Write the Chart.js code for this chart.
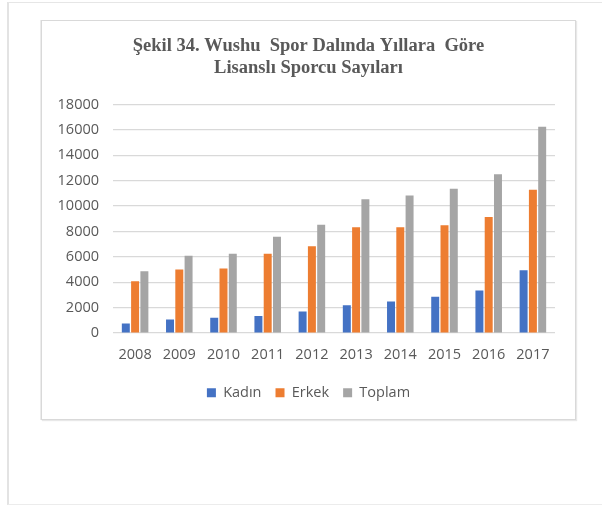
<!DOCTYPE html>
<html>
<head>
<meta charset="utf-8">
<script src="https://cdn.jsdelivr.net/npm/chart.js@4/dist/chart.umd.min.js"></script>
<style>
	html, body { margin: 0; padding: 0; background: #ffffff; }
	body { width: 602px; height: 506px; position: relative; overflow: hidden; }
	#page {
		position: absolute; left: 7px; top: 2px; width: 620px; height: 501px;
		border-left: 2px solid #e3e3e3; border-top: 1px solid #e6e6e6; border-bottom: 1px solid #ececec;
	}
	#box {
		position: absolute; left: 41px; top: 20px; width: 533px; height: 398px;
		border: 1px solid #d9d9d9;
		box-shadow: 1px 1px 1px #e8e8e8, -1px 0 0 #ececec;
		background: #ffffff;
	}
	#chart { display: block; }
</style>
</head>
<body>
<div id="page"></div>
<div id="box"><canvas id="chart" width="533" height="398"></canvas></div>
<script>
const YEARS = ['2008', '2009', '2010', '2011', '2012', '2013', '2014', '2015', '2016', '2017'];
const KADIN = [760, 1070, 1200, 1340, 1700, 2200, 2490, 2860, 3360, 4950];
const ERKEK = [4090, 5000, 5080, 6240, 6840, 8330, 8330, 8490, 9150, 11290];
const TOPLAM = [4870, 6090, 6240, 7590, 8540, 10550, 10840, 11360, 12520, 16250];
const TITLE_LINES = ['Şekil 34. Wushu  Spor Dalında Yıllara  Göre', 'Lisanslı Sporcu Sayıları'];

const TEXT_COLOR = '#595959';
const GRID_COLOR = '#d9d9d9';
const LABEL_FONT = { family: '"Open Sans", sans-serif', size: 14.5 };

let barDataset = (label, data, color) => ({
	label: label,
	data: data,
	backgroundColor: color,
	borderWidth: 0,
	barPercentage: 0.86,
	categoryPercentage: 0.63,
});

let chartOptions = {
	responsive: false,
	animation: false,
	layout: {
		padding: { left: 0, right: 0, top: 0, bottom: 9 },
	},
	scales: {
		x: {
			grid: { display: false, drawTicks: false },
			border: { display: false },
			afterFit: (scale) => { scale.height -= 5; },
			ticks: {
				color: TEXT_COLOR,
				font: LABEL_FONT,
				padding: 13,
				maxRotation: 0,
			},
		},
		y: {
			min: 0,
			max: 18000,
			afterFit: (scale) => { scale.width = 71; },
			grid: {
				color: GRID_COLOR,
				lineWidth: 1.3,
				drawTicks: false,
			},
			border: { display: false },
			ticks: {
				stepSize: 2000,
				color: TEXT_COLOR,
				font: LABEL_FONT,
				padding: 14,
				callback: (value) => value,
			},
		},
		// empty axis on the right, only keeps a margin beside the plot
		yRight: {
			position: 'right',
			afterFit: (scale) => { scale.width = 20; },
			grid: { display: false, drawTicks: false },
			border: { display: false },
			ticks: { display: false },
		},
	},
	plugins: {
		tooltip: { enabled: false },
		title: {
			display: true,
			text: TITLE_LINES,
			color: TEXT_COLOR,
			font: {
				family: '"Liberation Serif", "Times New Roman", serif',
				size: 18.5,
				weight: 'bold',
				lineHeight: 1.15,
			},
			padding: { top: 15, bottom: 26 },
		},
		legend: {
			position: 'bottom',
			labels: {
				color: TEXT_COLOR,
				font: LABEL_FONT,
				boxWidth: 9,
				boxHeight: 9,
				padding: 14,
			},
		},
	},
};

let chartData = {
	labels: YEARS,
	datasets: [
		barDataset('Kadın', KADIN, '#4472c4'),
		barDataset('Erkek', ERKEK, '#ed7d31'),
		barDataset('Toplam', TOPLAM, '#a5a5a5'),
	],
};

let wushuChart = new Chart(document.getElementById('chart'), {
	type: 'bar',
	data: chartData,
	options: chartOptions,
});
</script>
</body>
</html>
